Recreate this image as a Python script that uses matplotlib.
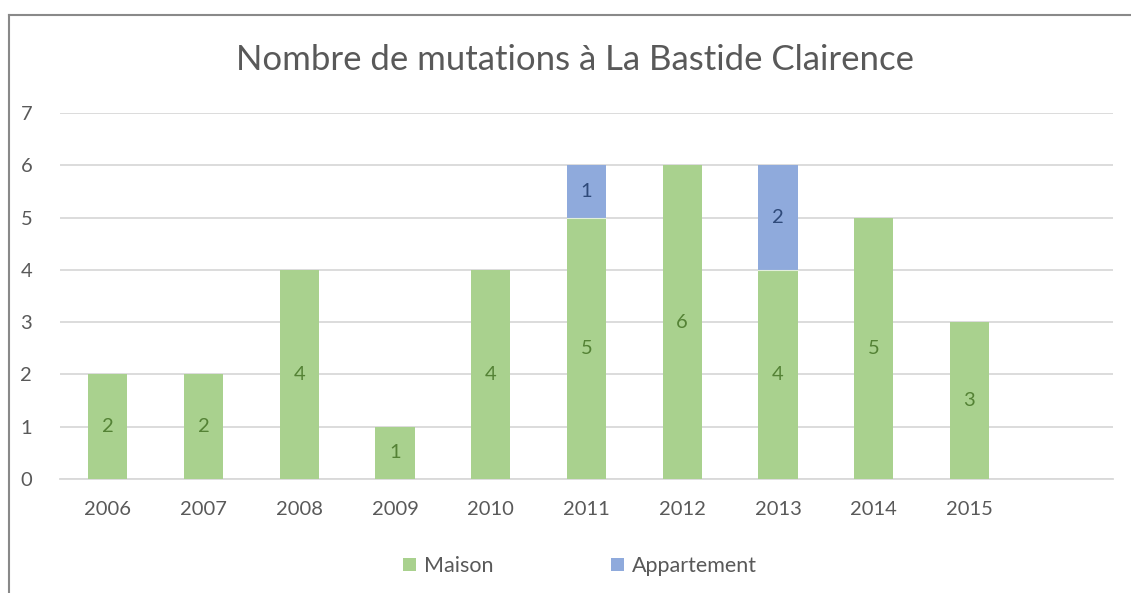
import matplotlib
matplotlib.use("Agg")
import matplotlib.pyplot as plt
from matplotlib.patches import Patch
from matplotlib.lines import Line2D
import numpy as np

plt.rcParams['font.family'] = ['Lato', 'DejaVu Sans']

categories = ["2006", "2007", "2008", "2009", "2010", "2011", "2012", "2013", "2014", "2015", ""]
maison = [2, 2, 4, 1, 4, 5, 6, 4, 5, 3, 0]
appartement = [0, 0, 0, 0, 0, 1, 0, 2, 0, 0, 0]

green = "#A9D18E"
blue = "#8FAADC"
txt = "#595959"
grid = "#D9D9D9"

fig = plt.figure(figsize=(11.31, 5.93), dpi=100)
ax = fig.add_axes([60/1131, 1-479/593, (1113-60)/1131, (479-113)/593])

x = np.arange(len(categories))
w = 0.41
ax.bar(x, maison, w, color=green, linewidth=0, label="Maison", zorder=3)
ax.bar(x, appartement, w, bottom=maison, color=blue, linewidth=0, label="Appartement", zorder=3)
# thin separator between stacked segments
for i, (m, a) in enumerate(zip(maison, appartement)):
    if a > 0:
        ax.plot([i - w/2, i + w/2], [m, m], color="#E2EFDA", linewidth=0.8, zorder=3.5)

for i, (m, a) in enumerate(zip(maison, appartement)):
    if m > 0:
        ax.text(i, m/2, str(m), ha="center", va="center", fontsize=14.5, color="#548235", zorder=4)
    if a > 0:
        ax.text(i, m + a/2, str(a), ha="center", va="center", fontsize=14.5, color="#2F4A7A", zorder=4)

ax.set_xlim(-0.5, len(categories)-0.5)
ax.set_ylim(0, 7)
ax.set_yticks(range(0, 8))
ax.set_xticks(x)
ax.set_xticklabels(categories)
ax.yaxis.grid(True, color=grid, linewidth=1.3, zorder=0)
ax.set_axisbelow(True)
for s in ["top", "right", "left"]:
    ax.spines[s].set_visible(False)
ax.spines["bottom"].set_color(grid)
ax.spines["bottom"].set_linewidth(1.3)
ax.tick_params(axis="both", length=0, labelsize=14.5, colors=txt)
ax.tick_params(axis="y", pad=20)
ax.tick_params(axis="x", pad=16)

fig.text(575/1131, 1-60/593, "Nombre de mutations à La Bastide Clairence", ha="center", va="center",
         fontsize=25, color=txt)

handles = [Patch(facecolor=green, label="Maison"), Patch(facecolor=blue, label="Appartement")]
fig.legend(handles=handles, loc="center", bbox_to_anchor=(580/1131, 1-566/593), ncol=2, frameon=False,
           fontsize=15.5, labelcolor=txt, handlelength=0.6, handleheight=0.6, handletextpad=0.35,
           columnspacing=5.5)

x0 = 8.5/1131
y0 = 1 - 14.5/593
fig.add_artist(Line2D([x0, x0], [0, y0], transform=fig.transFigure, color="#898989", linewidth=1.5))
fig.add_artist(Line2D([x0, 1], [y0, y0], transform=fig.transFigure, color="#898989", linewidth=1.5))

fig.savefig("out.png", dpi=100)
